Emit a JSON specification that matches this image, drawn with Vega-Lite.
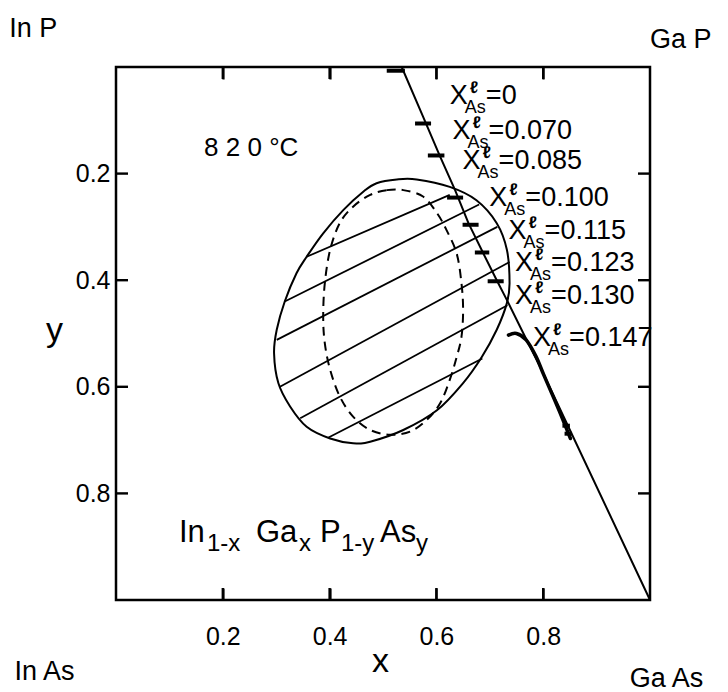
{
  "$schema": "https://vega.github.io/schema/vega-lite/v6.json",
  "width": 534,
  "height": 533,
  "autosize": "none",
  "padding": {"left": 116, "top": 67, "right": 78, "bottom": 92},
  "background": "white",
  "config": {
    "font": "Liberation Sans",
    "view": {"stroke": "black", "strokeWidth": 2.5},
    "axis": {
      "domain": false,
      "grid": false,
      "ticks": false,
      "labelColor": "black",
      "labelFont": "Liberation Sans",
      "labelFontSize": 25,
      "titleColor": "black",
      "titleFont": "Liberation Sans",
      "titleFontSize": 34,
      "titleFontWeight": "normal"
    }
  },
  "datasets": {
    "xticks": [
      {"v": 0.2, "y1": 0.9775, "y2": 1}, {"v": 0.4, "y1": 0.9775, "y2": 1},
      {"v": 0.6, "y1": 0.9775, "y2": 1}, {"v": 0.8, "y1": 0.9775, "y2": 1},
      {"v": 0.2, "y1": 0, "y2": 0.0225}, {"v": 0.4, "y1": 0, "y2": 0.0225},
      {"v": 0.6, "y1": 0, "y2": 0.0225}, {"v": 0.8, "y1": 0, "y2": 0.0225}
    ],
    "yticks": [
      {"v": 0.2, "x1": 0, "x2": 0.0225}, {"v": 0.4, "x1": 0, "x2": 0.0225},
      {"v": 0.6, "x1": 0, "x2": 0.0225}, {"v": 0.8, "x1": 0, "x2": 0.0225},
      {"v": 0.2, "x1": 0.9775, "x2": 1}, {"v": 0.4, "x1": 0.9775, "x2": 1},
      {"v": 0.6, "x1": 0.9775, "x2": 1}, {"v": 0.8, "x1": 0.9775, "x2": 1}
    ],
    "outline": [
      {"seq": 1, "x": 0.488, "y": 0.218}, {"seq": 2, "x": 0.526, "y": 0.211},
      {"seq": 3, "x": 0.563, "y": 0.211}, {"seq": 4, "x": 0.625, "y": 0.225},
      {"seq": 5, "x": 0.675, "y": 0.250}, {"seq": 6, "x": 0.713, "y": 0.293},
      {"seq": 7, "x": 0.732, "y": 0.343}, {"seq": 8, "x": 0.737, "y": 0.406},
      {"seq": 9, "x": 0.732, "y": 0.443}, {"seq": 10, "x": 0.713, "y": 0.493},
      {"seq": 11, "x": 0.685, "y": 0.544}, {"seq": 12, "x": 0.650, "y": 0.593},
      {"seq": 13, "x": 0.601, "y": 0.644}, {"seq": 14, "x": 0.538, "y": 0.681},
      {"seq": 15, "x": 0.476, "y": 0.703}, {"seq": 16, "x": 0.444, "y": 0.706},
      {"seq": 17, "x": 0.401, "y": 0.697}, {"seq": 18, "x": 0.357, "y": 0.675},
      {"seq": 19, "x": 0.326, "y": 0.637}, {"seq": 20, "x": 0.304, "y": 0.593},
      {"seq": 21, "x": 0.296, "y": 0.537}, {"seq": 22, "x": 0.301, "y": 0.493},
      {"seq": 23, "x": 0.316, "y": 0.440}, {"seq": 24, "x": 0.338, "y": 0.387},
      {"seq": 25, "x": 0.357, "y": 0.356}, {"seq": 26, "x": 0.388, "y": 0.312},
      {"seq": 27, "x": 0.426, "y": 0.268}, {"seq": 28, "x": 0.463, "y": 0.234}
    ],
    "inner": [
      {"seq": 1, "x": 0.476, "y": 0.240}, {"seq": 2, "x": 0.507, "y": 0.231},
      {"seq": 3, "x": 0.538, "y": 0.231}, {"seq": 4, "x": 0.575, "y": 0.243},
      {"seq": 5, "x": 0.601, "y": 0.274}, {"seq": 6, "x": 0.619, "y": 0.306},
      {"seq": 7, "x": 0.638, "y": 0.350}, {"seq": 8, "x": 0.647, "y": 0.406},
      {"seq": 9, "x": 0.650, "y": 0.456}, {"seq": 10, "x": 0.647, "y": 0.506},
      {"seq": 11, "x": 0.638, "y": 0.544}, {"seq": 12, "x": 0.625, "y": 0.587},
      {"seq": 13, "x": 0.607, "y": 0.631}, {"seq": 14, "x": 0.582, "y": 0.662},
      {"seq": 15, "x": 0.551, "y": 0.684}, {"seq": 16, "x": 0.513, "y": 0.690},
      {"seq": 17, "x": 0.476, "y": 0.681}, {"seq": 18, "x": 0.444, "y": 0.656},
      {"seq": 19, "x": 0.419, "y": 0.618}, {"seq": 20, "x": 0.401, "y": 0.568},
      {"seq": 21, "x": 0.391, "y": 0.518}, {"seq": 22, "x": 0.388, "y": 0.468},
      {"seq": 23, "x": 0.391, "y": 0.406}, {"seq": 24, "x": 0.401, "y": 0.343},
      {"seq": 25, "x": 0.419, "y": 0.293}, {"seq": 26, "x": 0.444, "y": 0.262}
    ],
    "ties": [
      {"tie": 1, "x": 0.357, "y": 0.356}, {"tie": 1, "x": 0.625, "y": 0.240},
      {"tie": 2, "x": 0.316, "y": 0.440}, {"tie": 2, "x": 0.680, "y": 0.258},
      {"tie": 3, "x": 0.301, "y": 0.512}, {"tie": 3, "x": 0.714, "y": 0.300},
      {"tie": 4, "x": 0.307, "y": 0.600}, {"tie": 4, "x": 0.737, "y": 0.366},
      {"tie": 5, "x": 0.345, "y": 0.659}, {"tie": 5, "x": 0.733, "y": 0.447},
      {"tie": 6, "x": 0.398, "y": 0.695}, {"tie": 6, "x": 0.686, "y": 0.547}
    ],
    "boundary": [
      {"seq": 1, "x": 0.535, "y": 0.0}, {"seq": 2, "x": 0.575, "y": 0.093},
      {"seq": 3, "x": 0.607, "y": 0.168}, {"seq": 4, "x": 0.635, "y": 0.231},
      {"seq": 5, "x": 0.660, "y": 0.293}, {"seq": 6, "x": 0.688, "y": 0.350},
      {"seq": 7, "x": 0.713, "y": 0.400}, {"seq": 8, "x": 0.735, "y": 0.443},
      {"seq": 9, "x": 0.763, "y": 0.500}, {"seq": 10, "x": 0.794, "y": 0.562},
      {"seq": 11, "x": 1.0, "y": 1.0}
    ],
    "hook": [
      {"seq": 1, "x": 0.735, "y": 0.503}, {"seq": 2, "x": 0.750, "y": 0.500},
      {"seq": 3, "x": 0.768, "y": 0.512}, {"seq": 4, "x": 0.786, "y": 0.542},
      {"seq": 5, "x": 0.800, "y": 0.575}, {"seq": 6, "x": 0.815, "y": 0.610},
      {"seq": 7, "x": 0.830, "y": 0.645}, {"seq": 8, "x": 0.843, "y": 0.677},
      {"seq": 9, "x": 0.851, "y": 0.697}
    ],
    "dashes": [
      {"y": 0.007, "x1": 0.507, "x2": 0.541},
      {"y": 0.106, "x1": 0.560, "x2": 0.590},
      {"y": 0.166, "x1": 0.584, "x2": 0.615},
      {"y": 0.245, "x1": 0.620, "x2": 0.650},
      {"y": 0.296, "x1": 0.649, "x2": 0.679},
      {"y": 0.348, "x1": 0.672, "x2": 0.699},
      {"y": 0.402, "x1": 0.696, "x2": 0.726},
      {"y": 0.673, "x1": 0.836, "x2": 0.850},
      {"y": 0.688, "x1": 0.840, "x2": 0.854}
    ],
    "xas": [
      {"x": 0.625, "y": 0.069, "value": "0"},
      {"x": 0.630, "y": 0.135, "value": "0.070"},
      {"x": 0.649, "y": 0.191, "value": "0.085"},
      {"x": 0.699, "y": 0.261, "value": "0.100"},
      {"x": 0.735, "y": 0.323, "value": "0.115"},
      {"x": 0.747, "y": 0.383, "value": "0.123"},
      {"x": 0.747, "y": 0.445, "value": "0.130"},
      {"x": 0.781, "y": 0.523, "value": "0.147"}
    ],
    "corners": [
      {"x": -0.200, "y": -0.056, "name": "In P"},
      {"x": 1.000, "y": -0.036, "name": "Ga P"},
      {"x": -0.190, "y": 1.150, "name": "In As"},
      {"x": 0.962, "y": 1.163, "name": "Ga As"}
    ],
    "temp": [{"x": 0.165, "y": 0.167, "note": "8 2 0 °C"}],
    "formula": [{"x": 0.118, "y": 0.891}]
  },
  "resolve": {"axis": {"x": "independent", "y": "independent"}},
  "layer": [
    {
      "data": {"name": "ties"},
      "mark": {"type": "line", "stroke": "black", "strokeWidth": 1.8},
      "encoding": {
        "x": {"field": "x", "type": "quantitative", "scale": {"domain": [0, 1]}, "axis": null},
        "y": {"field": "y", "type": "quantitative", "scale": {"domain": [0, 1], "reverse": true}, "axis": null},
        "detail": {"field": "tie"}
      }
    },
    {
      "data": {"name": "inner"},
      "mark": {"type": "line", "stroke": "black", "strokeWidth": 2, "strokeDash": [9, 6], "interpolate": "cardinal-closed"},
      "encoding": {
        "x": {"field": "x", "type": "quantitative", "scale": {"domain": [0, 1]}, "axis": null},
        "y": {"field": "y", "type": "quantitative", "scale": {"domain": [0, 1], "reverse": true}, "axis": null},
        "order": {"field": "seq"}
      }
    },
    {
      "data": {"name": "outline"},
      "mark": {"type": "line", "stroke": "black", "strokeWidth": 2, "interpolate": "cardinal-closed"},
      "encoding": {
        "x": {"field": "x", "type": "quantitative", "scale": {"domain": [0, 1]}, "axis": null},
        "y": {"field": "y", "type": "quantitative", "scale": {"domain": [0, 1], "reverse": true}, "axis": null},
        "order": {"field": "seq"}
      }
    },
    {
      "data": {"name": "boundary"},
      "mark": {"type": "line", "stroke": "black", "strokeWidth": 2},
      "encoding": {
        "x": {
          "field": "x", "type": "quantitative", "scale": {"domain": [0, 1]},
          "axis": {
            "orient": "bottom", "values": [0.2, 0.4, 0.6, 0.8], "format": ".1f",
            "offset": -12, "ticks": true, "tickSize": 12, "tickWidth": 2.2, "tickColor": "black",
            "labelPadding": 24, "title": "x",
            "titleX": 264, "titleY": 83, "titleAlign": "center", "titleBaseline": "alphabetic"
          }
        },
        "y": {
          "field": "y", "type": "quantitative", "scale": {"domain": [0, 1], "reverse": true},
          "axis": {
            "orient": "left", "values": [0.2, 0.4, 0.6, 0.8], "format": ".1f",
            "labelPadding": 6, "title": "y", "titleAngle": 0,
            "titleX": -62, "titleY": 273, "titleAlign": "center", "titleBaseline": "alphabetic"
          }
        },
        "order": {"field": "seq"}
      }
    },
    {
      "data": {"name": "xticks"},
      "mark": {"type": "rule", "stroke": "black", "strokeWidth": 2.4},
      "encoding": {
        "x": {
          "field": "v", "type": "quantitative", "scale": {"domain": [0, 1]},
          "axis": {
            "orient": "top", "values": [0.2, 0.4, 0.6, 0.8], "labels": false, "title": null,
            "offset": -12, "ticks": true, "tickSize": 12, "tickWidth": 2.2, "tickColor": "black"
          }
        },
        "y": {"field": "y1", "type": "quantitative", "scale": {"domain": [0, 1], "reverse": true}, "axis": null},
        "y2": {"field": "y2"}
      }
    },
    {
      "data": {"name": "yticks"},
      "mark": {"type": "rule", "stroke": "black", "strokeWidth": 2.4},
      "encoding": {
        "y": {"field": "v", "type": "quantitative", "scale": {"domain": [0, 1], "reverse": true}, "axis": null},
        "x": {"field": "x1", "type": "quantitative", "scale": {"domain": [0, 1]}, "axis": null},
        "x2": {"field": "x2"}
      }
    },
    {
      "data": {"name": "hook"},
      "mark": {"type": "line", "stroke": "black", "strokeWidth": 3.5, "strokeCap": "round", "interpolate": "cardinal"},
      "encoding": {
        "x": {"field": "x", "type": "quantitative", "scale": {"domain": [0, 1]}, "axis": null},
        "y": {"field": "y", "type": "quantitative", "scale": {"domain": [0, 1], "reverse": true}, "axis": null},
        "order": {"field": "seq"}
      }
    },
    {
      "data": {"name": "dashes"},
      "mark": {"type": "rule", "stroke": "black", "strokeWidth": 4},
      "encoding": {
        "x": {"field": "x1", "type": "quantitative", "scale": {"domain": [0, 1]}, "axis": null},
        "x2": {"field": "x2"},
        "y": {"field": "y", "type": "quantitative", "scale": {"domain": [0, 1], "reverse": true}, "axis": null}
      }
    },
    {
      "data": {"name": "xas"},
      "encoding": {
        "x": {"field": "x", "type": "quantitative", "scale": {"domain": [0, 1]}, "axis": null},
        "y": {"field": "y", "type": "quantitative", "scale": {"domain": [0, 1], "reverse": true}, "axis": null}
      },
      "layer": [
        {"mark": {"type": "text", "align": "left", "baseline": "alphabetic", "fontSize": 27, "color": "black"}, "encoding": {"text": {"value": "X"}}},
        {"mark": {"type": "text", "align": "left", "baseline": "alphabetic", "fontSize": 17, "fontWeight": "bold", "color": "black", "dx": 20, "dy": -11}, "encoding": {"text": {"value": "ℓ"}}},
        {"mark": {"type": "text", "align": "left", "baseline": "alphabetic", "fontSize": 18, "color": "black", "dx": 15, "dy": 9}, "encoding": {"text": {"value": "As"}}},
        {"mark": {"type": "text", "align": "left", "baseline": "alphabetic", "fontSize": 27, "color": "black", "dx": 36}, "encoding": {"text": {"value": "="}}},
        {"mark": {"type": "text", "align": "left", "baseline": "alphabetic", "fontSize": 27, "color": "black", "dx": 52}, "encoding": {"text": {"field": "value"}}}
      ]
    },
    {
      "data": {"name": "corners"},
      "mark": {"type": "text", "align": "left", "baseline": "alphabetic", "fontSize": 27, "color": "black"},
      "encoding": {
        "x": {"field": "x", "type": "quantitative", "scale": {"domain": [0, 1]}, "axis": null},
        "y": {"field": "y", "type": "quantitative", "scale": {"domain": [0, 1], "reverse": true}, "axis": null},
        "text": {"field": "name"}
      }
    },
    {
      "data": {"name": "temp"},
      "mark": {"type": "text", "align": "left", "baseline": "alphabetic", "fontSize": 26, "color": "black"},
      "encoding": {
        "x": {"field": "x", "type": "quantitative", "scale": {"domain": [0, 1]}, "axis": null},
        "y": {"field": "y", "type": "quantitative", "scale": {"domain": [0, 1], "reverse": true}, "axis": null},
        "text": {"field": "note"}
      }
    },
    {
      "data": {"name": "formula"},
      "encoding": {
        "x": {"field": "x", "type": "quantitative", "scale": {"domain": [0, 1]}, "axis": null},
        "y": {"field": "y", "type": "quantitative", "scale": {"domain": [0, 1], "reverse": true}, "axis": null}
      },
      "layer": [
        {"mark": {"type": "text", "align": "left", "baseline": "alphabetic", "fontSize": 31, "color": "black"}, "encoding": {"text": {"value": "In"}}},
        {"mark": {"type": "text", "align": "left", "baseline": "alphabetic", "fontSize": 24, "color": "black", "dx": 28, "dy": 9}, "encoding": {"text": {"value": "1-x"}}},
        {"mark": {"type": "text", "align": "left", "baseline": "alphabetic", "fontSize": 31, "color": "black", "dx": 77}, "encoding": {"text": {"value": "Ga"}}},
        {"mark": {"type": "text", "align": "left", "baseline": "alphabetic", "fontSize": 24, "color": "black", "dx": 120, "dy": 9}, "encoding": {"text": {"value": "x"}}},
        {"mark": {"type": "text", "align": "left", "baseline": "alphabetic", "fontSize": 31, "color": "black", "dx": 141}, "encoding": {"text": {"value": "P"}}},
        {"mark": {"type": "text", "align": "left", "baseline": "alphabetic", "fontSize": 24, "color": "black", "dx": 162, "dy": 9}, "encoding": {"text": {"value": "1-y"}}},
        {"mark": {"type": "text", "align": "left", "baseline": "alphabetic", "fontSize": 31, "color": "black", "dx": 201}, "encoding": {"text": {"value": "As"}}},
        {"mark": {"type": "text", "align": "left", "baseline": "alphabetic", "fontSize": 24, "color": "black", "dx": 237, "dy": 9}, "encoding": {"text": {"value": "y"}}}
      ]
    }
  ]
}
